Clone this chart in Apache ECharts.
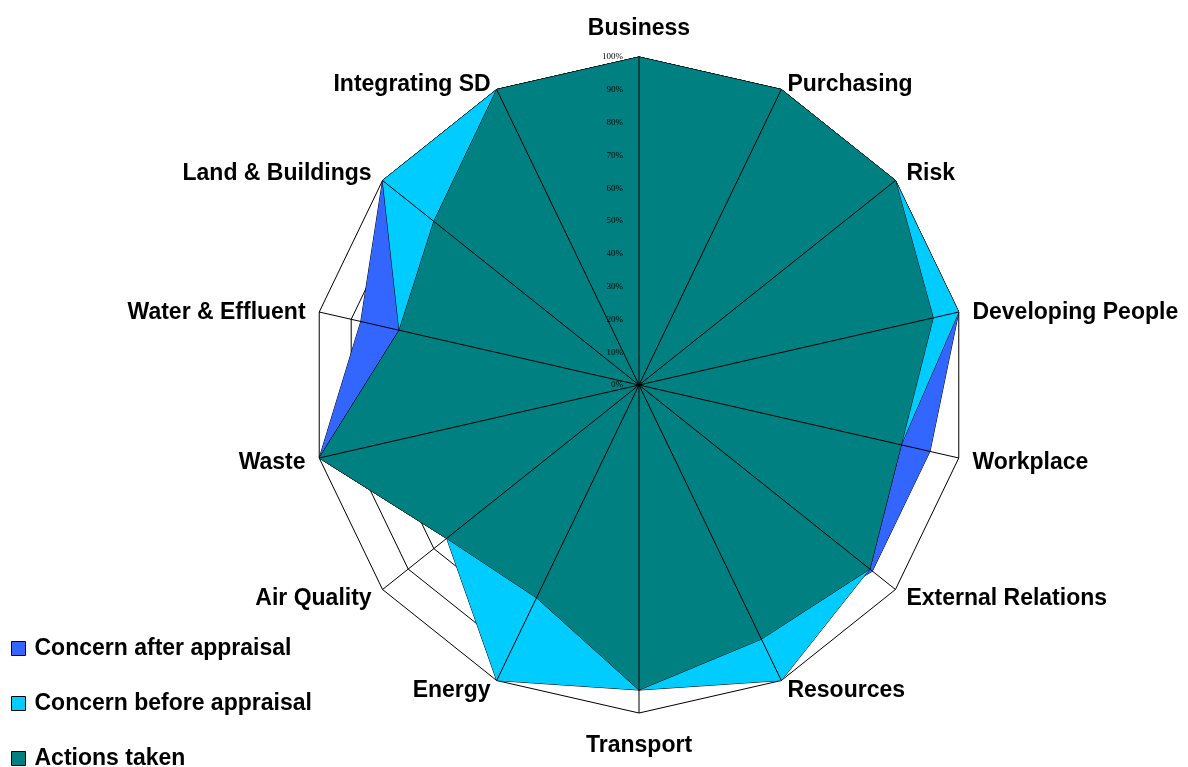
<!DOCTYPE html>
<html>
<head>
<meta charset="utf-8">
<script src="https://cdn.jsdelivr.net/npm/echarts@6/dist/echarts.min.js"></script>
<style>
  html, body { margin: 0; padding: 0; background: #fff; }
  #chart { width: 1188px; height: 767px; }
</style>
</head>
<body>
<div id="chart"></div>
<script>
// Axes, listed clockwise from the top
const categories = ['Business', 'Purchasing', 'Risk', 'Developing People', 'Workplace',
  'External Relations', 'Resources', 'Transport', 'Energy', 'Air Quality', 'Waste',
  'Water & Effluent', 'Land & Buildings', 'Integrating SD'];

// Percent values per axis, same order as categories
const concernAfter  = [100, 100, 100, 100, 91, 91, 86, 93, 72, 75, 100, 87, 100, 100];
const concernBefore = [100, 100, 100, 100, 82, 90, 100, 93, 100, 75, 100, 75, 100, 100];
const actionsTaken  = [100, 100, 100, 92, 82, 90, 86, 93, 72, 75, 100, 75, 80, 100];

const seriesNames = ['Concern after appraisal', 'Concern before appraisal', 'Actions taken'];
const seriesColors = ['#3366FF', '#00CCFF', '#008080'];

const CENTER = [639, 385];
const RADIUS = 328;
const FONT = 'Liberation Sans, Arial, sans-serif';

// Radar lays indicators out counter-clockwise, so walk the list backwards after the first
const order = [0].concat(categories.slice(1).map((_, i) => categories.length - 1 - i));
const pick = arr => order.map(i => arr[i]);

// Per-axis nudges of the axis names (rich-text padding), by position round the ring
const nameStyleKey = ['t', 'a', 'b', 'c', 'b', 'n', 'd', 'e', 'd', 'n', 'b', 'c', 'b', 'a'];
const nameFont = { color: '#000', fontFamily: FONT, fontWeight: 'bold', fontSize: 23 };
const rich = {
  t: Object.assign({ padding: [0, 0, 3, 0] }, nameFont),
  a: Object.assign({ padding: [16, 0, 0, 0] }, nameFont),
  b: Object.assign({ padding: [4, 0, 0, 0] }, nameFont),
  c: Object.assign({ padding: [8, 0, 0, 0] }, nameFont),
  n: Object.assign({}, nameFont),
  d: Object.assign({ padding: [0, 0, 4, 0] }, nameFont),
  e: Object.assign({ padding: [7, 0, 0, 0] }, nameFont)
};

const chart = echarts.init(document.getElementById('chart'));

const seriesData = [concernAfter, concernBefore, actionsTaken];

chart.setOption({
  animation: false,
  backgroundColor: '#fff',
  legend: {
    orient: 'vertical',
    left: 6,
    top: 632,
    height: 160,
    icon: 'rect',
    itemWidth: 14,
    itemHeight: 14,
    itemGap: 32,
    itemStyle: { borderColor: '#000', borderWidth: 1 },
    textStyle: { fontFamily: FONT, fontWeight: 'bold', fontSize: 23, color: '#000', padding: [0, 0, 0, 4] },
    data: seriesNames
  },
  radar: {
    z: 0,
    center: CENTER,
    radius: RADIUS,
    startAngle: 90,
    shape: 'polygon',
    splitNumber: 10,
    nameGap: 14,
    axisName: {
      color: '#000', fontFamily: FONT, fontWeight: 'bold', fontSize: 23,
      formatter: name => '{' + nameStyleKey[categories.indexOf(name)] + '|' + name + '}',
      rich
    },
    axisLine: { show: false },
    axisTick: { show: false },
    axisLabel: { show: false },
    splitLine: { lineStyle: { color: '#000', width: 1 } },
    splitArea: { show: false },
    indicator: pick(categories).map(name => ({ name, min: 0, max: 100 }))
  },
  // Spokes and percentage scale drawn over the filled areas
  polar: { center: CENTER, radius: RADIUS },
  angleAxis: {
    type: 'category',
    data: categories,
    boundaryGap: false,
    startAngle: 90,
    clockwise: true,
    z: 10,
    axisLine: { show: false },
    axisTick: { show: false },
    axisLabel: { show: false },
    splitLine: { show: true, lineStyle: { color: '#000', width: 1 } }
  },
  radiusAxis: {
    type: 'value',
    min: 0,
    max: 100,
    interval: 10,
    z: 11,
    axisLine: { show: false },
    axisTick: { show: false },
    splitLine: { show: false },
    axisLabel: {
      formatter: '{value}%',
      fontFamily: 'Liberation Serif, Times New Roman, serif',
      fontSize: 9,
      color: '#000',
      margin: 16
    }
  },
  series: seriesNames.map((name, k) => ({
    type: 'radar',
    name,
    z: 2 + k,
    symbol: 'none',
    silent: true,
    itemStyle: { color: seriesColors[k] },
    lineStyle: { color: '#000', width: 1 },
    areaStyle: { color: seriesColors[k], opacity: 1 },
    data: [{ name, value: pick(seriesData[k]) }]
  }))
});
</script>
</body>
</html>
